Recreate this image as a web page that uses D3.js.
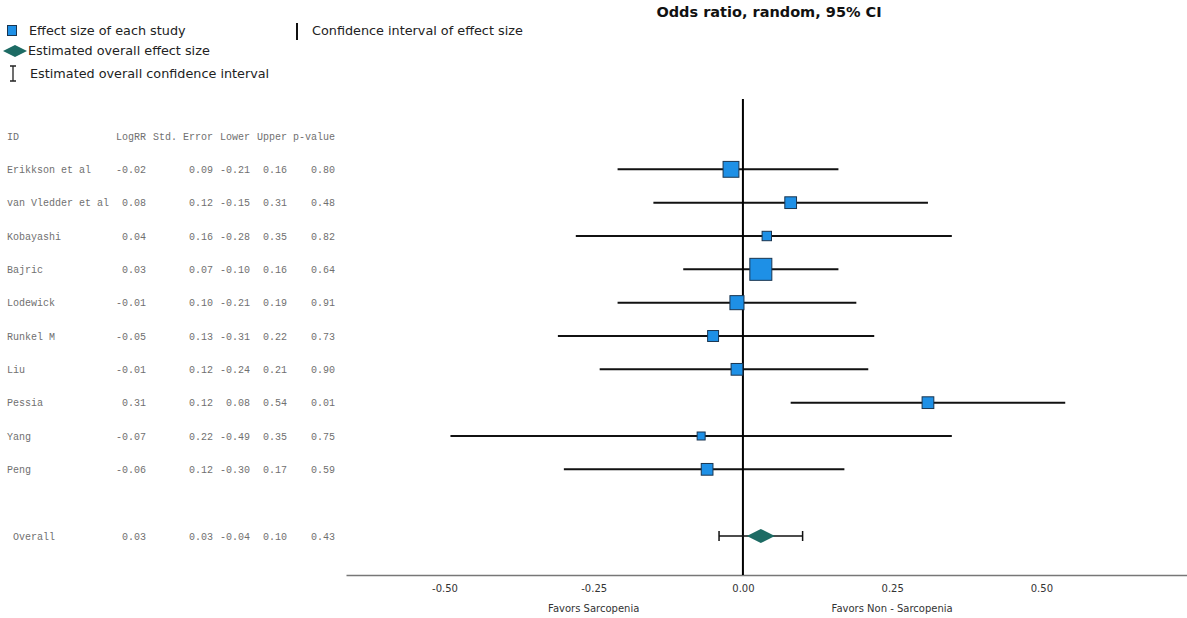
<!DOCTYPE html>
<html>
<head>
<meta charset="utf-8">
<script src="https://cdn.jsdelivr.net/npm/d3@7"></script>
<style>
  html, body { margin: 0; padding: 0; background: #fff; }
  svg { display: block; }
  .legend-text { font-family: "DejaVu Sans", sans-serif; font-size: 12.8px; fill: #222; }
  .table-text { font-family: "Liberation Mono", monospace; font-size: 10px; fill: #707070; }
  .axis-text { font-family: "DejaVu Sans", sans-serif; font-size: 10px; fill: #333; }
</style>
</head>
<body>
<div id="chart"></div>
<script>
// study data
const studies = ["Erikkson et al", "van Vledder et al", "Kobayashi", "Bajric", "Lodewick",
  "Runkel M", "Liu", "Pessia", "Yang", "Peng"];
const logRR = [-0.02, 0.08, 0.04, 0.03, -0.01, -0.05, -0.01, 0.31, -0.07, -0.06];
const stdError = [0.09, 0.12, 0.16, 0.07, 0.10, 0.13, 0.12, 0.12, 0.22, 0.12];
const lower = [-0.21, -0.15, -0.28, -0.10, -0.21, -0.31, -0.24, 0.08, -0.49, -0.30];
const upper = [0.16, 0.31, 0.35, 0.16, 0.19, 0.22, 0.21, 0.54, 0.35, 0.17];
const pValue = [0.80, 0.48, 0.82, 0.64, 0.91, 0.73, 0.90, 0.01, 0.75, 0.59];

const overall = { id: "Overall", logRR: 0.03, se: 0.03, lower: -0.04, upper: 0.10, p: 0.43 };

const columnHeaders = ["LogRR", "Std. Error", "Lower", "Upper", "p-value"];
const xTicks = [-0.50, -0.25, 0.00, 0.25, 0.50];

const width = 1187;
const height = 618;

const svg = d3.select("#chart").append("svg")
  .attr("width", width)
  .attr("height", height);

const x = d3.scaleLinear().domain([-0.665, 0.744]).range([346, 1187]);
// row 0 = header, rows 1-10 = studies, row 12 = overall
const y = d3.scaleLinear().domain([0, 12]).range([136, 536]);

const rows = studies.map((id, i) => ({
  id,
  row: i + 1,
  logRR: logRR[i],
  se: stdError[i],
  lower: lower[i],
  upper: upper[i],
  p: pValue[i],
  weight: 1 / (stdError[i] * stdError[i]),
}));

const boxSize = d3.scaleLinear()
  .domain(d3.extent(rows, (d) => d.weight))
  .range([8, 22]);

const fmt = (v) => d3.format(".2f")(v).replace("\u2212", "-");

// ---- title
svg.append("text")
  .attr("x", 769)
  .attr("y", 12)
  .attr("dy", "0.35em")
  .attr("text-anchor", "middle")
  .attr("font-family", "DejaVu Sans, sans-serif")
  .attr("font-weight", "bold")
  .attr("font-size", 14.5)
  .attr("fill", "#111")
  .text("Odds ratio, random, 95% CI");

// ---- legend
const legend = svg.append("g");
legend.append("rect")
  .attr("x", 7.5).attr("y", 25.5).attr("width", 9).attr("height", 10)
  .attr("fill", "#1e90e6").attr("stroke", "#1a3550").attr("stroke-width", 1);
legend.append("text").attr("class", "legend-text")
  .attr("x", 29).attr("y", 31).attr("dy", "0.35em").text("Effect size of each study");

legend.append("path")
  .attr("d", "M3,51 L15,45 L27,51 L15,57 Z")
  .attr("fill", "#1d6b64");
legend.append("text").attr("class", "legend-text")
  .attr("x", 28).attr("y", 51).attr("dy", "0.35em").text("Estimated overall effect size");

legend.append("path")
  .attr("d", "M13,66 L13,81 M10,66 L16,66 M10,81 L16,81")
  .attr("stroke", "#222").attr("stroke-width", 1.3).attr("fill", "none");
legend.append("text").attr("class", "legend-text")
  .attr("x", 30).attr("y", 74).attr("dy", "0.35em").text("Estimated overall confidence interval");

legend.append("line")
  .attr("x1", 297).attr("x2", 297).attr("y1", 23).attr("y2", 40)
  .attr("stroke", "#111").attr("stroke-width", 2);
legend.append("text").attr("class", "legend-text")
  .attr("x", 312).attr("y", 31).attr("dy", "0.35em").text("Confidence interval of effect size");

// ---- table
const colRight = [146, 213, 250, 287, 335];
const table = svg.append("g");
table.append("text").attr("class", "table-text")
  .attr("x", 7).attr("y", y(0)).attr("dy", "0.35em").text("ID");
table.selectAll(".col-head")
  .data(columnHeaders)
  .join("text")
  .attr("class", "table-text col-head")
  .attr("x", (d, i) => colRight[i])
  .attr("y", y(0))
  .attr("dy", "0.35em")
  .attr("text-anchor", "end")
  .text((d) => d);

const tableRows = rows.concat([{ ...overall, row: 12 }]);
const rowG = table.selectAll(".row")
  .data(tableRows)
  .join("g")
  .attr("class", "row")
  .attr("transform", (d) => `translate(0,${y(d.row)})`);

rowG.append("text").attr("class", "table-text")
  .attr("x", (d) => (d.row === 12 ? 13 : 7))
  .attr("dy", "0.35em")
  .text((d) => d.id);

rowG.selectAll(".cell")
  .data((d) => [d.logRR, d.se, d.lower, d.upper, d.p])
  .join("text")
  .attr("class", "table-text cell")
  .attr("x", (v, i) => colRight[i])
  .attr("dy", "0.35em")
  .attr("text-anchor", "end")
  .text((v) => fmt(v));

// ---- axis
const axisY = 575;
const axis = svg.append("g")
  .attr("transform", `translate(0,${axisY})`)
  .call(d3.axisBottom(x).tickValues(xTicks).tickSize(0).tickPadding(10).tickFormat(fmt));
axis.select(".domain").attr("stroke", "#777").attr("stroke-width", 1.5);
axis.selectAll(".tick text").attr("class", "axis-text").attr("font-family", null).attr("font-size", null);

svg.append("text").attr("class", "axis-text")
  .attr("x", x(-0.25)).attr("y", 608).attr("dy", "0.35em").attr("text-anchor", "middle")
  .attr("font-size", 10.5)
  .text("Favors Sarcopenia");
svg.append("text").attr("class", "axis-text")
  .attr("x", x(0.25)).attr("y", 608).attr("dy", "0.35em").attr("text-anchor", "middle")
  .attr("font-size", 10.5)
  .text("Favors Non - Sarcopenia");

// ---- confidence intervals
svg.append("g").selectAll("line")
  .data(rows)
  .join("line")
  .attr("x1", (d) => x(d.lower))
  .attr("x2", (d) => x(d.upper))
  .attr("y1", (d) => y(d.row))
  .attr("y2", (d) => y(d.row))
  .attr("stroke", "#111")
  .attr("stroke-width", 2);

// ---- zero line
svg.append("line")
  .attr("x1", x(0)).attr("x2", x(0))
  .attr("y1", 99).attr("y2", axisY)
  .attr("stroke", "#000").attr("stroke-width", 2);

// ---- study boxes
svg.append("g").selectAll("rect")
  .data(rows)
  .join("rect")
  .attr("x", (d) => x(d.logRR) - boxSize(d.weight) / 2)
  .attr("y", (d) => y(d.row) - boxSize(d.weight) / 2)
  .attr("width", (d) => boxSize(d.weight))
  .attr("height", (d) => boxSize(d.weight))
  .attr("fill", "#1e90e6")
  .attr("stroke", "#1a3550")
  .attr("stroke-width", 1);

// ---- overall estimate
const oy = y(12);
svg.append("line")
  .attr("x1", x(overall.lower)).attr("x2", x(overall.upper))
  .attr("y1", oy).attr("y2", oy)
  .attr("stroke", "#111").attr("stroke-width", 1.5);
svg.append("g").selectAll("line")
  .data([overall.lower, overall.upper])
  .join("line")
  .attr("x1", (v) => x(v)).attr("x2", (v) => x(v))
  .attr("y1", oy - 5).attr("y2", oy + 5)
  .attr("stroke", "#111").attr("stroke-width", 1.5);
const cx = x(overall.logRR);
svg.append("path")
  .attr("d", `M${cx - 14},${oy} L${cx},${oy - 7} L${cx + 14},${oy} L${cx},${oy + 7} Z`)
  .attr("fill", "#1d6b64");
</script>
</body>
</html>
